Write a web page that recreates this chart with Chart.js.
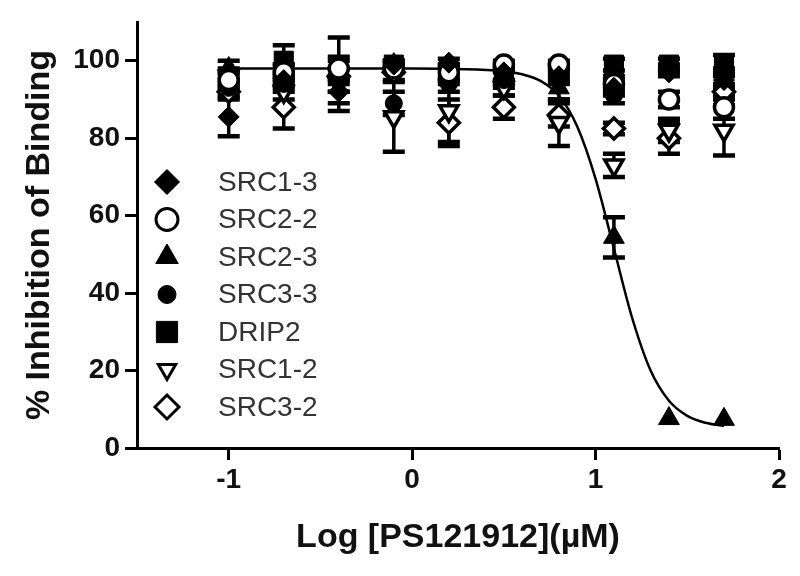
<!DOCTYPE html>
<html>
<head>
<meta charset="utf-8">
<script src="https://cdn.jsdelivr.net/npm/chart.js@4.4.1/dist/chart.umd.min.js"></script>
<style>
html, body { margin: 0; padding: 0; background: #fff; }
#wrap { width: 800px; height: 576px; }
</style>
</head>
<body>
<div id="wrap"><canvas id="chart" width="800" height="576"></canvas></div>
<script>
// Dane: log stężenia (µM) i % inhibicji
const logConc = [-1, -0.7, -0.4, -0.1, 0.2, 0.5, 0.8, 1.1, 1.4, 1.7];

const seriesNames = ['SRC1-3', 'SRC2-2', 'SRC2-3', 'SRC3-3', 'DRIP2', 'SRC1-2', 'SRC3-2'];

const src13    = [85.5, 95, 92, 99, 99.5, 97, 96, 93, 97, 95];
const src13Err = [5, 2, 3, 1, 1, 2, 2, 2, 1, 2];
const src22    = [95, 97, 98, 98, 97, 99, 99, 94, 90, 88];
const src22Err = [2, 2, 2, 1, 2, 1, 1, 2, 2, 3];
const src23    = [98, 97, 98, 99, 97, 96, 93, 54.4, 7.6, 7.4];
const src23Err = [2, 2, 3, 1, 2, 2, 3, 5.2, 0, 0];
const src33    = [93, 94, 95, 89, 94, 95, 98, 91, 98, 97];
const src33Err = [2, 2, 3, 3, 2, 2, 1, 2, 1, 1];
const drip2    = [95, 100, 96.5, 99, 96, 96, 97, 99, 99, 99];
const drip2Err = [2, 4, 9.5, 1, 2, 2, 2, 1.5, 1.5, 2.5];
const src12    = [96, 92, 94, 85.5, 87, 93, 84, 73, 82, 82];
const src12Err = [2, 2, 2, 9, 8, 2, 6, 3, 3, 6.5];
const src32    = [92, 88, 96, 97, 84, 88, 86, 82.5, 80, 92];
const src32Err = [2, 5.5, 2, 2, 6, 3, 3, 1.5, 4, 2];

const fitX = [-1, 0, 0.5, 0.6, 0.7, 0.8, 0.9, 1.0, 1.1, 1.2, 1.3, 1.4, 1.5, 1.6, 1.7];
const fitY = [98, 98, 97.3, 96.5, 94.8, 91, 83, 69.5, 51.5, 33.5, 20, 12.2, 8.3, 6.5, 5.7];

const xTicks = [-1, 0, 1, 2];
const yTicks = [0, 20, 40, 60, 80, 100];

const seriesValues = [src13, src22, src23, src33, drip2, src12, src32];
const seriesErrors = [src13Err, src22Err, src23Err, src33Err, drip2Err, src12Err, src32Err];

// Style znaczników
const markers = [
    { pointStyle: 'rectRot',  radius: 10.5, fill: true,  legendRadius: 12.5 },
    { pointStyle: 'circle',   radius: 9.5,  fill: false, legendRadius: 11 },
    { pointStyle: 'triangle', radius: 12, fill: true, legendRadius: 13 },
    { pointStyle: 'circle',   radius: 8.5,  fill: true,  legendRadius: 9 },
    { pointStyle: 'rect',     radius: 13.5, fill: true,  legendRadius: 15 },
    { pointStyle: 'triangle', radius: 10.5, fill: false, rotation: 180, legendRadius: 10 },
    { pointStyle: 'rectRot',  radius: 10.5, fill: false, legendRadius: 12 }
];

const datasets = seriesNames.map((name, i) => {
    const m = markers[i];
    return {
        label: name,
        data: logConc.map((x, j) => ({ x: x, y: seriesValues[i][j] })),
        errors: seriesErrors[i],
        showLine: false,
        pointStyle: m.pointStyle,
        pointRotation: m.rotation || 0,
        pointRadius: m.radius,
        pointBackgroundColor: m.fill ? '#000' : '#fff',
        pointBorderColor: '#000',
        pointBorderWidth: m.fill ? 1 : 3.5,
        clip: false
    };
});

datasets.push({
    label: 'fit',
    data: fitX.map((x, j) => ({ x: x, y: fitY[j] })),
    showLine: true,
    pointRadius: 0,
    borderColor: '#000',
    borderWidth: 2.5,
    cubicInterpolationMode: 'monotone',
    fill: false,
    clip: false
});

// Słupki błędów
const errorBars = {
    id: 'errorBars',
    beforeDatasetsDraw(chart) {
        const ctx = chart.ctx;
        const xs = chart.scales.x, ys = chart.scales.y;
        ctx.save();
        ctx.strokeStyle = '#000';
        chart.data.datasets.forEach(ds => {
            if (!ds.errors) return;
            ds.data.forEach((p, i) => {
                const e = ds.errors[i];
                if (!e) return;
                const px = xs.getPixelForValue(p.x);
                const top = ys.getPixelForValue(p.y + e);
                const bot = ys.getPixelForValue(p.y - e);
                ctx.lineWidth = 3.5;
                ctx.beginPath();
                ctx.moveTo(px, top);
                ctx.lineTo(px, bot);
                ctx.stroke();
                ctx.lineWidth = 4.5;
                ctx.beginPath();
                ctx.moveTo(px - 11, top); ctx.lineTo(px + 11, top);
                ctx.moveTo(px - 11, bot); ctx.lineTo(px + 11, bot);
                ctx.stroke();
            });
        });
        ctx.restore();
    }
};

// Legenda wewnątrz obszaru wykresu
const innerLegend = {
    id: 'innerLegend',
    afterDraw(chart) {
        const ctx = chart.ctx;
        const area = chart.chartArea;
        const mx = area.left + 30;
        const tx = area.left + 81;
        ctx.save();
        ctx.font = '28px "Liberation Sans", Arial, sans-serif';
        ctx.textBaseline = 'middle';
        ctx.textAlign = 'left';
        seriesNames.forEach((name, i) => {
            const m = markers[i];
            const y = area.top + 160 + i * 37.5;
            ctx.fillStyle = m.fill ? '#000' : '#fff';
            ctx.strokeStyle = '#000';
            ctx.lineWidth = m.fill ? 1 : 3;
            Chart.helpers.drawPoint(ctx, {
                pointStyle: m.pointStyle,
                rotation: m.rotation || 0,
                radius: m.legendRadius,
                borderWidth: ctx.lineWidth
            }, mx, y);
            ctx.fillStyle = '#333';
            ctx.fillText(name, tx, y + 1);
        });
        ctx.restore();
    }
};

const axisFont = { family: '"Liberation Sans", Arial, sans-serif', size: 28, weight: 'bold' };
const titleFont = { family: '"Liberation Sans", Arial, sans-serif', size: 34, weight: 'bold' };

new Chart(document.getElementById('chart').getContext('2d'), {
    type: 'scatter',
    data: { datasets: datasets },
    options: {
        responsive: false,
        animation: false,
        events: [],
        layout: { padding: { top: 22, right: 21, left: 0, bottom: 0 } },
        plugins: {
            legend: { display: false },
            tooltip: { enabled: false }
        },
        scales: {
            x: {
                type: 'linear',
                min: -1.5,
                max: 2,
                afterBuildTicks: scale => { scale.ticks = xTicks.map(v => ({ value: v })); },
                afterFit: scale => { scale.height = 128; },
                ticks: { color: '#111', font: axisFont, padding: 3, maxRotation: 0 },
                grid: { drawOnChartArea: false, tickLength: 12, tickWidth: 3, tickColor: '#000' },
                border: { color: '#000', width: 3 },
                title: {
                    display: true,
                    text: 'Log [PS121912](µM)',
                    color: '#111',
                    font: titleFont,
                    padding: { top: 0, bottom: 18 }
                }
            },
            y: {
                min: 0,
                max: 110,
                afterBuildTicks: scale => { scale.ticks = yTicks.map(v => ({ value: v })); },
                afterFit: scale => { scale.width = 137; },
                ticks: { color: '#111', font: axisFont, padding: 5 },
                grid: { drawOnChartArea: false, tickLength: 12, tickWidth: 3, tickColor: '#000' },
                border: { color: '#000', width: 3 },
                title: {
                    display: true,
                    text: '% Inhibition of Binding',
                    color: '#111',
                    font: titleFont,
                    padding: { top: 19, bottom: 0 }
                }
            }
        }
    },
    plugins: [errorBars, innerLegend]
});
</script>
</body>
</html>
